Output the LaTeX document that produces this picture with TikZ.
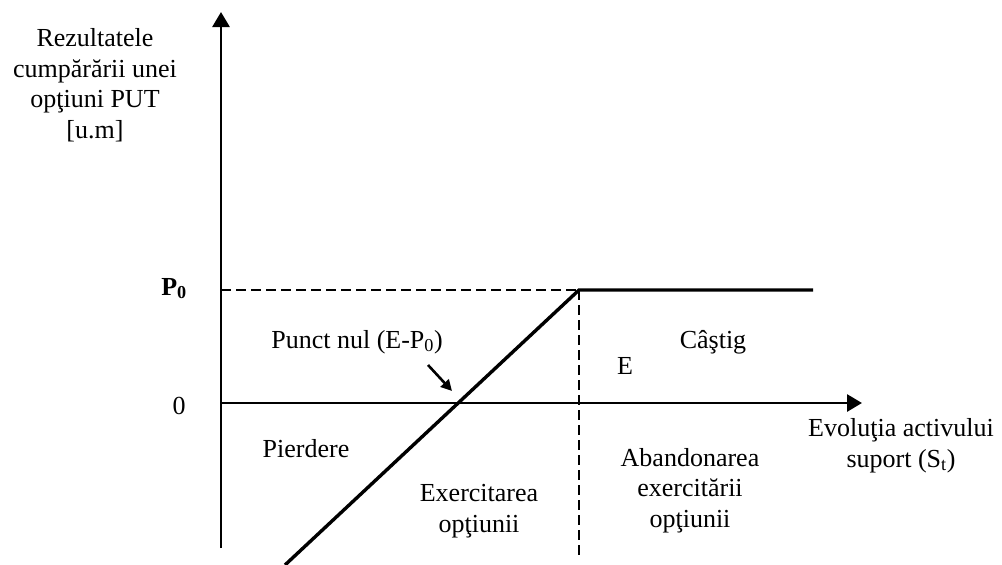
\documentclass[tikz,border=0pt]{standalone}
\usepackage{fontspec}
\setmainfont{Liberation Serif}
\usetikzlibrary{arrows.meta}
\begin{document}
\begin{tikzpicture}[x=1pt,y=-1pt,
  lbl/.style={font=\fontsize{26}{30.5}\selectfont, align=center, inner sep=0pt, anchor=base},
  axis/.style={line width=2.8pt, -{Triangle[length=15pt,width=17pt]}},
  payoff/.style={line width=3.4pt, line join=miter},
  guide/.style={line width=1.8pt, dash pattern=on 10pt off 5pt},
  pointer/.style={line width=2.6pt, -{Triangle[length=11pt,width=11pt]}}]
\useasboundingbox (0,0) rectangle (1002,565);
% coordinates
\coordinate (ybot) at (221,548);
\coordinate (ytop) at (221,12);
\coordinate (O) at (221,403);
\coordinate (xend) at (862,403);
\coordinate (p0left) at (221,290);
\coordinate (K) at (579,290);
\coordinate (kbot) at (579,556);
\coordinate (lend) at (285,565);
\coordinate (rend) at (813,290);
\coordinate (ptail) at (428,365);
\coordinate (phead) at (452,391);
% lines
\draw[guide] (p0left) -- (K);
\draw[guide] (K) -- (kbot);
\draw[axis] (ybot) -- (ytop);
\draw[axis] (O) -- (xend);
\draw[payoff] (lend) -- (K) -- (rend);
\draw[pointer] (ptail) -- (phead);
% labels (multi-line nodes: base = last line baseline)
\node[lbl] (ylab) at (95,138) {Rezultatele\\cumpărării unei\\opţiuni PUT\\{[u.m]}};
\node[lbl] (p0) at (174,295) {\textbf{P\textsubscript{0}}};
\node[lbl] (zero) at (179,414) {0};
\node[lbl] (nul) at (357,348) {Punct nul (E-P\textsubscript{0})};
\node[lbl] (E) at (625,374) {E};
\node[lbl] (castig) at (713,348) {Câştig};
\node[lbl] (pierdere) at (306,457) {Pierdere};
\node[lbl] (exerc) at (479,532) {Exercitarea\\opţiunii};
\node[lbl] (aband) at (690,527) {Abandonarea\\exercitării\\opţiunii};
\node[lbl] (evol) at (901,467) {Evoluţia activului\\suport (S\textsubscript{t})};
\end{tikzpicture}
\end{document}
